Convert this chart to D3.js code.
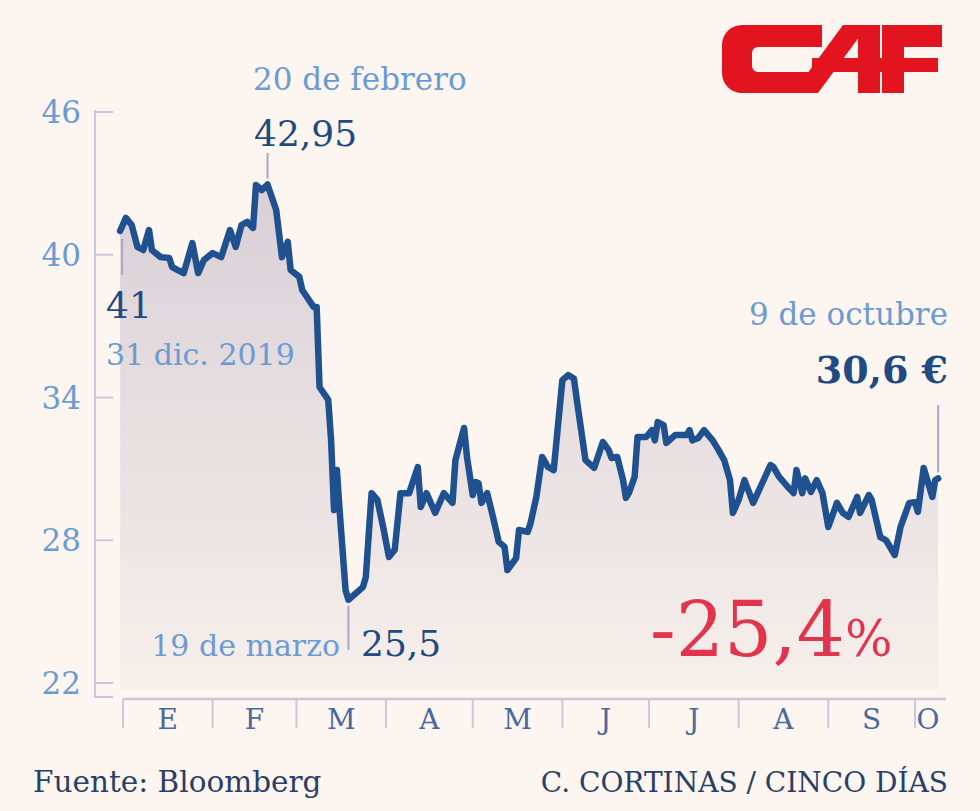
<!DOCTYPE html>
<html><head><meta charset="utf-8">
<script src="https://cdn.jsdelivr.net/npm/d3@7/dist/d3.min.js"></script>
<style>body{margin:0;background:#fdf5ef}svg{display:block}</style>
</head><body><svg id="c" width="980" height="811"></svg>
<script>
// day number (0 = 31 dic. 2019) and closing price (€)
const days = [0,2,4,6,8,10,11,14,17,18,22,25,27,29,32,35,38,40,42,44,46,47,49,51,54,56,58,59,62,63,67,68,69,72,73,74,75,76,78,79,84,85,87,89,91,93,95,97,100,103,104,106,109,112,115,116,119,120,122,123,124,125,127,129,131,133,134,137,138,141,142,144,146,148,150,153,155,157,158,161,164,167,169,170,172,174,175,176,178,179,182,184,185,186,188,189,192,196,197,198,200,202,205,207,209,211,212,214,216,219,221,225,226,228,231,233,234,236,237,239,241,243,245,248,250,252,255,256,259,260,263,265,268,270,273,275,276,278,281,282,283];
const prices = [41.0,41.55,41.25,40.33,40.2,41.04,40.2,39.9,39.86,39.48,39.23,40.49,39.23,39.78,40.07,39.9,41.04,40.33,41.25,41.38,41.13,42.93,42.72,42.95,41.88,39.9,40.54,39.36,39.07,38.52,37.8,37.8,34.44,33.9,32.2,29.27,30.95,29.15,25.9,25.5,26.03,26.45,29.98,29.7,28.56,27.3,27.59,29.98,29.98,31.08,29.4,29.98,29.15,29.98,29.57,31.37,32.72,31.5,29.9,30.45,30.4,29.57,29.98,28.98,27.93,27.72,26.75,27.25,28.43,28.35,28.72,29.82,31.5,31.08,30.95,34.73,34.94,34.8,33.9,31.37,31.04,32.13,31.8,31.46,31.5,30.53,29.78,29.98,30.66,32.34,32.34,32.63,32.2,32.97,32.84,32.09,32.42,32.42,32.63,32.2,32.3,32.63,32.2,31.8,31.37,30.53,29.15,29.7,30.53,29.57,30.1,31.16,31.08,30.66,30.24,29.98,30.95,29.98,30.6,30.03,30.53,29.98,28.56,29.57,29.15,28.98,29.82,29.15,29.9,29.7,28.13,28.0,27.38,28.56,29.57,29.6,29.19,31.04,29.82,30.53,30.6];
const yTicks = [22,28,34,40,46];
const monthStarts = [1,32,61,92,122,153,183,214,245,275,284];
const monthLabels = ["E","F","M","A","M","J","J","A","S","O"];

const svg = d3.select("#c");
svg.append("rect").attr("width",980).attr("height",811).attr("fill","#fdf5ef");
const x = d3.scaleLinear().domain([1,275]).range([123,915]);
const y = d3.scaleLinear().domain([22,46]).range([683,112]);
const light="#6b9bd3", dark="#1f4a82", serif="'DejaVu Serif', serif";

const defs = svg.append("defs");
const g = defs.append("linearGradient").attr("id","gr").attr("x1",0).attr("x2",0).attr("y1",0).attr("y2",1);
g.append("stop").attr("offset","0%").attr("stop-color","#d8d0d6");
g.append("stop").attr("offset","100%").attr("stop-color","#f7efeb");

// axes
svg.append("path").attr("d","M95,110V697H113").attr("fill","none").attr("stroke","#c9c7da").attr("stroke-width",2);
svg.selectAll(".yt").data(yTicks).join("line").attr("x1",95).attr("x2",113)
  .attr("y1",d=>y(d)).attr("y2",d=>y(d)).attr("stroke","#c9c7da").attr("stroke-width",2);
svg.selectAll(".yl").data(yTicks).join("text").attr("x",81).attr("y",d=>y(d)+11)
  .attr("text-anchor","end").attr("font-family",serif).attr("font-size",31).attr("fill",light).text(d=>d);
svg.append("line").attr("x1",123).attr("x2",946).attr("y1",699).attr("y2",699).attr("stroke","#c9c7da").attr("stroke-width",2.5);
svg.selectAll(".xt").data(monthStarts.slice(0,10)).join("line").attr("x1",d=>x(d)).attr("x2",d=>x(d))
  .attr("y1",699).attr("y2",728).attr("stroke","#c9c7da").attr("stroke-width",2);
svg.selectAll(".xl").data(monthLabels).join("text")
  .attr("x",(d,i)=>(x(monthStarts[i])+Math.min(x(monthStarts[i+1]),946))/2).attr("y",729)
  .attr("text-anchor","middle").attr("font-family",serif).attr("font-size",28).attr("fill","#4a6a9e").text(d=>d);

// area + line
const data = days.map((d,i)=>[d,prices[i]]);
svg.append("path").datum(data).attr("fill","url(#gr)")
  .attr("d",d3.area().x(d=>x(d[0])).y0(690).y1(d=>y(d[1])));
svg.append("path").datum(data).attr("fill","none").attr("stroke","#1f5190").attr("stroke-width",6.5)
  .attr("stroke-linejoin","round").attr("stroke-linecap","round")
  .attr("d",d3.line().x(d=>x(d[0])).y(d=>y(d[1])));

// annotation lines
const ann = (x1,y1,y2)=>svg.append("line").attr("x1",x1).attr("x2",x1).attr("y1",y1).attr("y2",y2).attr("stroke","#a9a6c6").attr("stroke-width",2);
ann(x(0)+2,y(41)+8,275); ann(x(51),y(42.95)-6,153); ann(x(79),y(25.5)+6,650); ann(x(283),y(30.6)-6,405);

const txt=(t,xx,yy,size,col,anchor="start",weight="normal")=>svg.append("text").attr("x",xx).attr("y",yy)
  .attr("font-family",serif).attr("font-size",size).attr("fill",col).attr("text-anchor",anchor).attr("font-weight",weight).text(t);
txt("20 de febrero",253,90,31,light);
txt("42,95",254,146,36,dark);
txt("41",106,318,36,dark);
txt("31 dic. 2019",106,365,30,light);
txt("19 de marzo",340,656,30,light,"end");
txt("25,5",361,656,36,dark);
txt("9 de octubre",948,325,31,light,"end");
txt("30,6 €",948,383,38,dark,"end","bold");
const pct = svg.append("text").attr("x",650).attr("y",656).attr("font-family",serif).attr("fill","#e2344c");
pct.append("tspan").attr("font-size",76).text("-25,4");
pct.append("tspan").attr("font-size",50).text("%");
txt("Fuente: Bloomberg",33,792,29.5,"#2a3f66");
txt("C. CORTINAS / CINCO DÍAS",948,792,28,"#2a3f66","end");

// logo
const red="#e1141f";
const logo = svg.append("g").attr("fill",red);
logo.append("path").attr("d","M742,25H822V47H758A6,6 0 0 0 752,53V66A6,6 0 0 0 758,72H818V93H742A20,20 0 0 1 722,73V45A20,20 0 0 1 742,25Z");
logo.append("path").attr("d","M793,93H818L868,25H843Z");
logo.append("rect").attr("x",812).attr("y",58).attr("width",70).attr("height",14);
logo.append("rect").attr("x",858).attr("y",25).attr("width",22).attr("height",68);
logo.append("rect").attr("x",882).attr("y",25).attr("width",22).attr("height",68);
logo.append("rect").attr("x",882).attr("y",25).attr("width",60).attr("height",22);
logo.append("rect").attr("x",882).attr("y",58).attr("width",56).attr("height",14);
</script></body></html>
